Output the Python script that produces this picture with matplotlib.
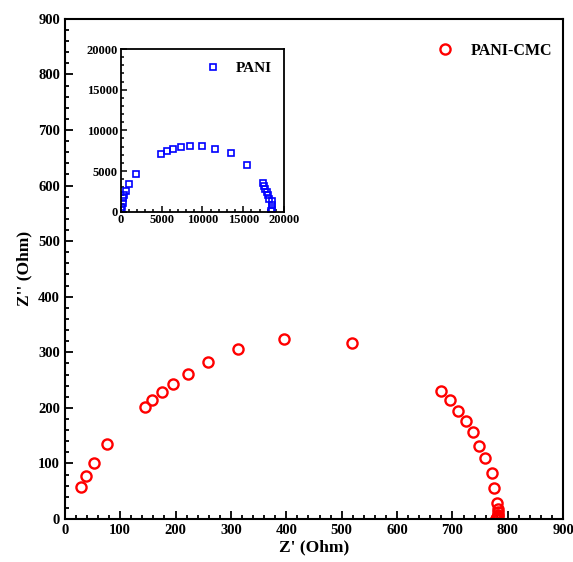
import numpy as np
import matplotlib
matplotlib.use("Agg")
from matplotlib import pyplot as plt
from matplotlib.ticker import MultipleLocator

plt.rcParams['font.family'] = ['Liberation Serif', 'DejaVu Serif']
plt.rcParams['font.weight'] = 'bold'

# PANI-CMC impedance (main plot)
cmc_re = [30, 39, 52, 77, 144, 158, 175, 195, 222, 259, 313, 396, 518,
          680, 695, 710, 724, 737, 748, 759, 771, 775, 781,
          782, 783, 783, 782, 781, 780, 779, 778]
cmc_im = [58, 77, 100, 135, 202, 214, 228, 243, 261, 283, 306, 324, 317,
          231, 214, 195, 177, 156, 132, 109, 83, 56, 28,
          18, 12, 8, 5, 3, 1.5, 0.5, 0]

# PANI impedance (inset)
pani_re = [40, 122, 244, 326, 407, 652, 1059, 1914,
           4969, 5621, 6435, 7372, 8513, 9938, 11567, 13522, 15437,
           17351, 17514, 17677, 17840, 18002, 18165, 18491, 18491, 18491, 18410]
pani_im = [205, 533, 1106, 1639, 2090, 2582, 3360, 4631,
           7131, 7418, 7704, 7909, 8073, 8032, 7745, 7253, 5737,
           3524, 3156, 2787, 2377, 2008, 1557, 1270, 861, 328, 41]

fig = plt.figure(figsize=(5.73, 5.62), dpi=100)
ax = fig.add_axes([0.113, 0.0765, 0.870, 0.890])

ax.plot(cmc_re, cmc_im, 'o', mfc='none', mec='red', ms=7.3, mew=1.7, label='PANI-CMC')
ax.set_xlim(0, 900)
ax.set_ylim(0, 900)
ax.xaxis.set_major_locator(MultipleLocator(100))
ax.yaxis.set_major_locator(MultipleLocator(100))
ax.xaxis.set_minor_locator(MultipleLocator(20))
ax.yaxis.set_minor_locator(MultipleLocator(20))
ax.tick_params(which='both', direction='in', labelsize=10.5, width=1.3)
ax.tick_params(which='major', length=6)
ax.tick_params(which='minor', length=3)
for s in ax.spines.values():
    s.set_linewidth(1.5)
ax.set_xlabel("Z' (Ohm)", fontsize=12.5, fontweight='bold', labelpad=2)
ax.set_ylabel("Z'' (Ohm)", fontsize=12.5, fontweight='bold', labelpad=4)
ax.legend(loc='upper right', bbox_to_anchor=(1.0, 0.975), frameon=False,
          handletextpad=0.6, borderaxespad=0.3,
          prop={'weight': 'bold', 'size': 11.5})

# inset
ins = fig.add_axes([0.2105, 0.6233, 0.2855, 0.2895])
ins.plot(pani_re, pani_im, 's', mfc='none', mec='blue', ms=4.7, mew=1.2, label='PANI')
ins.set_xlim(0, 20000)
ins.set_ylim(0, 20000)
ins.xaxis.set_major_locator(MultipleLocator(5000))
ins.yaxis.set_major_locator(MultipleLocator(5000))
ins.xaxis.set_minor_locator(MultipleLocator(1000))
ins.yaxis.set_minor_locator(MultipleLocator(1000))
ins.tick_params(which='both', direction='in', labelsize=9, width=1.1, pad=2)
ins.tick_params(which='major', length=4)
ins.tick_params(which='minor', length=2)
for s in ins.spines.values():
    s.set_linewidth(1.3)
ins.legend(loc='upper right', frameon=False, handletextpad=0.5,
           borderaxespad=0.4, prop={'weight': 'bold', 'size': 11})

fig.savefig('out.png', dpi=100)
